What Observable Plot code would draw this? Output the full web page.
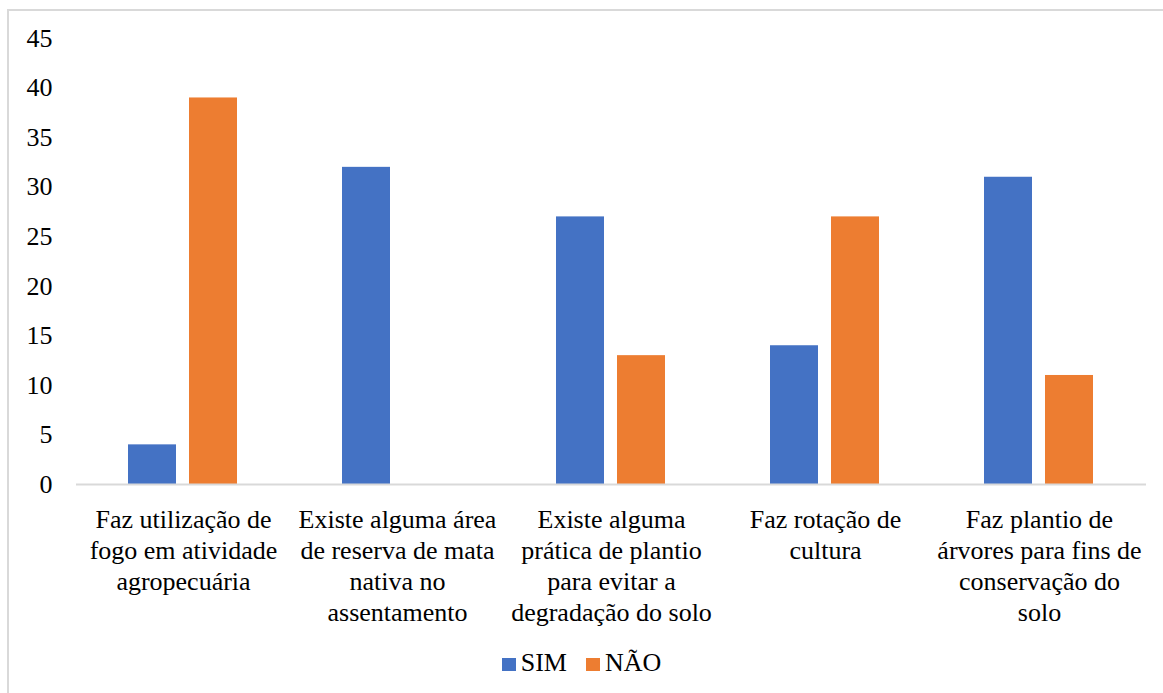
<!DOCTYPE html>
<html>
<head>
<meta charset="utf-8">
<script src="https://cdn.jsdelivr.net/npm/d3@7"></script>
<script src="https://cdn.jsdelivr.net/npm/@observablehq/plot@0.6"></script>
<style>
  html, body { margin: 0; padding: 0; background: #fff; }
  #wrap { position: relative; width: 1163px; height: 693px; overflow: hidden; font-family: "Liberation Serif", "DejaVu Serif", "Noto Serif", serif; }
  #frame { position: absolute; left: 7px; top: 9px; width: 1170px; height: 700px; border-top: 2px solid #d9d9d9; border-left: 2px solid #d9d9d9; box-sizing: border-box; }
  #chart { position: absolute; left: 0; top: 0; }
  #chart svg, #chart svg text { font-family: "Liberation Serif", "DejaVu Serif", "Noto Serif", serif !important; }
  #legend { position: absolute; left: 0; top: 640px; width: 1163px; height: 53px; display: flex; justify-content: center; align-items: flex-start; font-size: 26px; color: #000; }
  .item { display: flex; align-items: center; margin-top: 8px; }
  .sw { width: 14px; height: 13px; display: inline-block; margin-right: 5px; margin-top: 2px; }
</style>
</head>
<body>
<div id="wrap">
  <div id="frame"></div>
  <div id="chart"></div>
  <div id="legend"></div>
</div>
<script>
const categories = [
  "Faz utilização de\nfogo em atividade\nagropecuária",
  "Existe alguma área\nde reserva de mata\nnativa no\nassentamento",
  "Existe alguma\nprática de plantio\npara evitar a\ndegradação do solo",
  "Faz rotação de\ncultura",
  "Faz plantio de\nárvores para fins de\nconservação do\nsolo"
];
const seriesNames = ["SIM", "NÃO"];
const simValues = [4, 32, 27, 14, 31];
const naoValues = [39, 0, 13, 27, 11];
const yTicks = [0, 5, 10, 15, 20, 25, 30, 35, 40, 45];
const colors = ["#4472C4", "#ED7D31"];

const data = [];
categories.forEach((c, i) => {
  data.push({category: c, series: seriesNames[0], value: simValues[i]});
  data.push({category: c, series: seriesNames[1], value: naoValues[i]});
});

const chart = Plot.plot({
  width: 1163,
  height: 640,
  marginLeft: 75,
  marginRight: 16,
  marginTop: 38,
  marginBottom: 156,
  style: {fontFamily: "'Liberation Serif', 'DejaVu Serif', serif", fontSize: "26px", color: "#000", background: "transparent"},
  fx: {domain: categories, padding: 0, label: null, axis: null},
  x: {domain: seriesNames, paddingInner: 0.213, paddingOuter: 0.86, axis: null},
  y: {domain: [0, 45], label: null},
  color: {domain: seriesNames, range: colors},
  marks: [
    Plot.barY(data, {fx: "category", x: "series", y: "value", fill: "series"}),
    Plot.ruleY([0], {stroke: "#d9d9d9", strokeWidth: 2}),
    Plot.axisY({ticks: yTicks, tickSize: 0, tickPadding: 24, label: null, fontSize: 26}),
    Plot.axisFx({anchor: "bottom", tickSize: 0, tickPadding: 21, lineHeight: 1.2, label: null, fontSize: 26})
  ]
});
document.getElementById("chart").appendChild(chart);

const legend = document.getElementById("legend");
seriesNames.forEach((s, i) => {
  const item = document.createElement("div");
  item.className = "item";
  if (i > 0) item.style.marginLeft = "19px";
  const sw = document.createElement("span");
  sw.className = "sw";
  sw.style.background = colors[i];
  const t = document.createElement("span");
  t.textContent = s;
  item.appendChild(sw);
  item.appendChild(t);
  legend.appendChild(item);
});
</script>
</body>
</html>
